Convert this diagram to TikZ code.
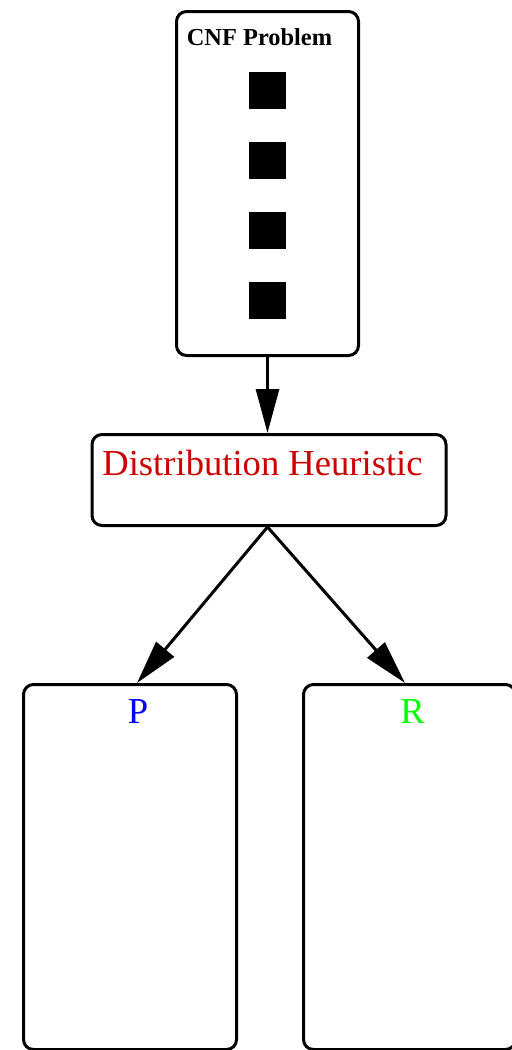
\documentclass[tikz,border=0pt]{standalone}
\usepackage{fontspec}
\setmainfont{Liberation Serif}
\usetikzlibrary{arrows.meta,positioning}
\definecolor{heurred}{HTML}{CC0000}
\definecolor{pblue}{HTML}{0000FF}
\definecolor{rgreen}{HTML}{00FF00}

\tikzset{
  stage/.style={draw=black, line width=1.5pt, rounded corners=5pt, fill=white, inner sep=0pt},
  clause/.style={fill=black, minimum size=18.5pt, inner sep=0pt},
  flow/.style={line width=1.5pt, -{Triangle[length=22pt,width=11.5pt]}},
  bigtext/.style={font=\fontsize{18.3}{20}\selectfont, inner sep=0pt, anchor=base}
}

\begin{document}
\begin{tikzpicture}
  \useasboundingbox (0,0) rectangle (256pt,-525pt);

  % input problem with its clauses
  \node[stage, minimum width=91pt, minimum height=172pt] (cnf) at (133.75pt,-91.75pt) {};
  \node[font=\fontsize{12.2}{14}\selectfont\bfseries, inner sep=0pt, anchor=base] (cnflabel) at (129.75pt,-22.5pt) {CNF Problem};
  \foreach \i in {1,...,4}
    \node[clause] (c\i) at (133.75pt,{-10pt-35pt*\i}) {};

  % heuristic
  \node[stage, minimum width=177pt, minimum height=45.5pt] (heur) at (134.5pt,-240pt) {};
  \node[bigtext, text=heurred] (heurlabel) at (131.25pt,-237.5pt) {Distribution Heuristic};

  % the two parts
  \node[stage, minimum width=106.5pt, minimum height=182.5pt] (pbox) at (65pt,-433.5pt) {};
  \node[stage, minimum width=106pt, minimum height=182.5pt] (rbox) at (204.75pt,-433.5pt) {};
  \node[bigtext, text=pblue] (plabel) at (69pt,-361.5pt) {P};
  \node[bigtext, text=rgreen] (rlabel) at (206.25pt,-361.5pt) {R};

  \draw[flow] ([xshift=-0.75pt]heur.north |- cnf.south) -- ([xshift=-0.75pt]heur.north);
  \draw[flow] ([xshift=-0.75pt]heur.south) -- ([xshift=3.5pt]pbox.north);
  \draw[flow] ([xshift=-0.75pt]heur.south) -- ([xshift=-2.25pt]rbox.north);
\end{tikzpicture}
\end{document}
